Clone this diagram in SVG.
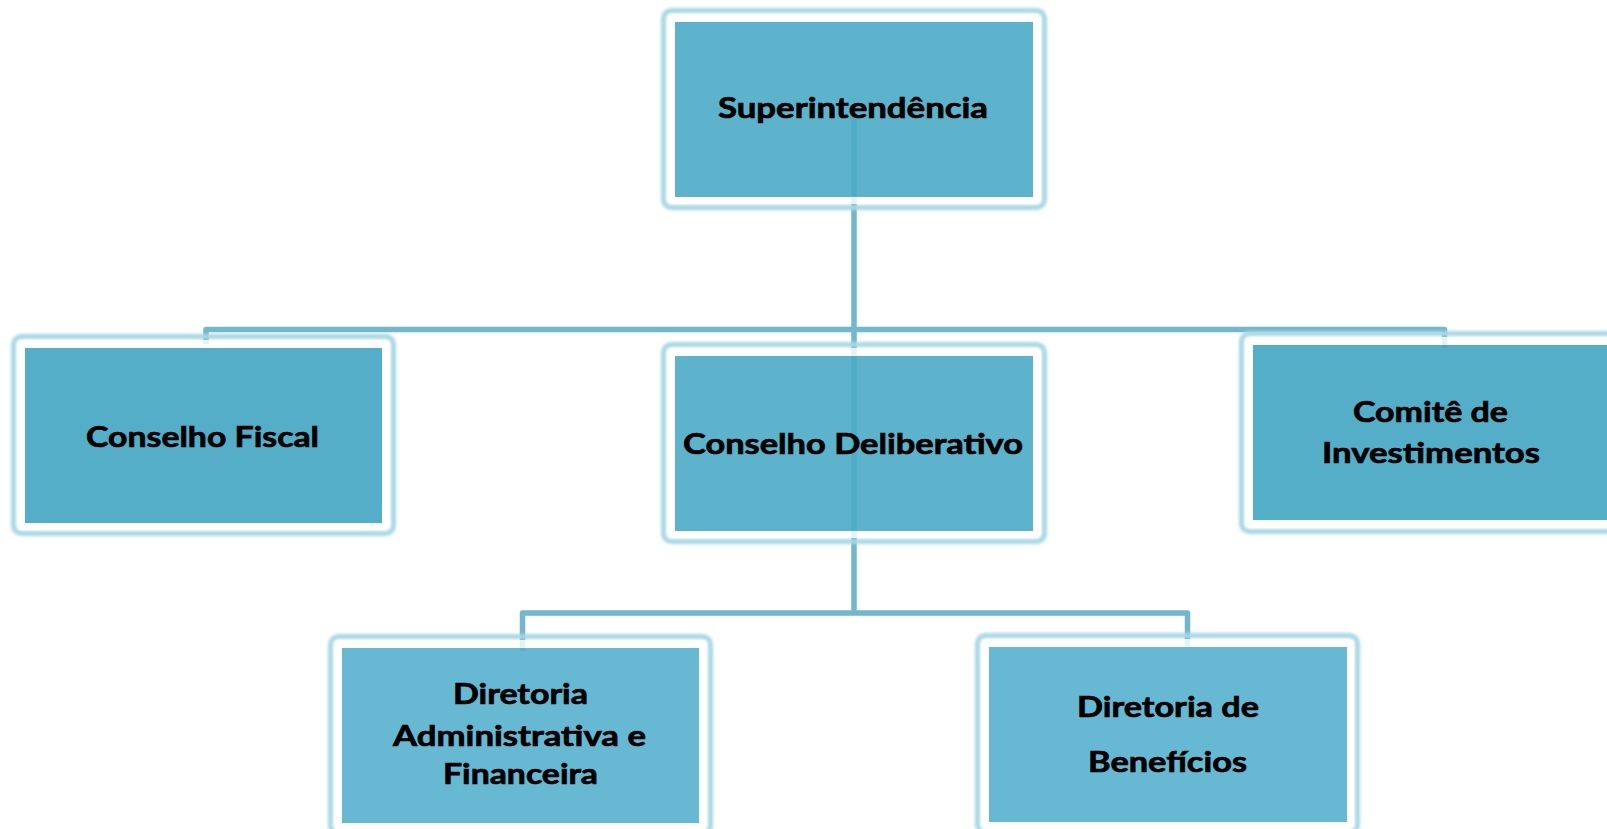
<svg xmlns="http://www.w3.org/2000/svg" width="1607" height="829" viewBox="0 0 1607 829">
<defs>
<filter id="blur" x="-10%" y="-10%" width="120%" height="120%"><feGaussianBlur stdDeviation="1.5"/></filter>
</defs>
<style>
.glow{fill:none;stroke:#a6d7e5;stroke-width:5;filter:url(#blur)}
.ring{fill:none;stroke:#ffffff;stroke-width:8;stroke-opacity:0.82}
.fill{fill-opacity:0.9}
.c1{fill:#4babc5}
.c2{fill:#41a5c2}
.c3{fill:#56b0cd}
.lbl{font-family:"Lato","Noto Sans","Liberation Sans",sans-serif;font-weight:bold;font-size:29px;fill:#000;stroke:#000;stroke-width:0.7;text-anchor:middle}
.conn{fill:none;stroke:#72b7cc;stroke-width:5.5;stroke-linejoin:round}
</style>
<rect width="1607" height="829" fill="#ffffff"/>
<g id="connectors">
<path class="conn" d="M854 110 V613"/>
<path class="conn" d="M206 344 V329.5 H1444.5 V348"/>
<path class="conn" d="M522.5 651 V613 H1187.5 V647"/>
</g>
<g id="superintendencia">
<rect class="glow" x="663.5" y="10.5" width="381" height="197" rx="8"/>
<rect class="ring" x="671" y="18" width="366" height="182" rx="2"/>
<rect class="fill c1" x="675" y="22" width="358" height="175"/>
<text class="lbl" x="853" y="118" textLength="270" lengthAdjust="spacingAndGlyphs">Superintendência</text>
</g>
<g id="conselho-fiscal">
<rect class="glow" x="13.5" y="336.5" width="380" height="197" rx="8"/>
<rect class="ring" x="21" y="344" width="365" height="182" rx="2"/>
<rect class="fill c2" x="25" y="348" width="357" height="175"/>
<text class="lbl" x="202.5" y="447" textLength="233" lengthAdjust="spacingAndGlyphs">Conselho Fiscal</text>
</g>
<g id="conselho-deliberativo">
<rect class="glow" x="663.5" y="344.5" width="381" height="197" rx="8"/>
<rect class="ring" x="671" y="352" width="366" height="182" rx="2"/>
<rect class="fill c1" x="675" y="356" width="358" height="175"/>
<text class="lbl" x="853" y="454" textLength="340" lengthAdjust="spacingAndGlyphs">Conselho Deliberativo</text>
</g>
<g id="comite-investimentos">
<rect class="glow" x="1241.5" y="333.5" width="381" height="198" rx="8"/>
<rect class="ring" x="1249" y="341" width="366" height="183" rx="2"/>
<rect class="fill c2" x="1253" y="345" width="358" height="175"/>
<text class="lbl" x="1430.5" y="422" textLength="155" lengthAdjust="spacingAndGlyphs">Comitê de</text>
<text class="lbl" x="1431" y="463" textLength="218" lengthAdjust="spacingAndGlyphs">Investimentos</text>
</g>
<g id="diretoria-administrativa">
<rect class="glow" x="330.5" y="636.5" width="380" height="197" rx="8"/>
<rect class="ring" x="338" y="644" width="365" height="182" rx="2"/>
<rect class="fill c3" x="342" y="648" width="357" height="175"/>
<text class="lbl" x="520.5" y="704" textLength="135" lengthAdjust="spacingAndGlyphs">Diretoria</text>
<text class="lbl" x="519.5" y="746" textLength="253" lengthAdjust="spacingAndGlyphs">Administrativa e</text>
<text class="lbl" x="520.5" y="784" textLength="155" lengthAdjust="spacingAndGlyphs">Financeira</text>
</g>
<g id="diretoria-beneficios">
<rect class="glow" x="977.5" y="635.5" width="380" height="197" rx="8"/>
<rect class="ring" x="985" y="643" width="365" height="182" rx="2"/>
<rect class="fill c3" x="989" y="647" width="358" height="175"/>
<text class="lbl" x="1168" y="717" textLength="182" lengthAdjust="spacingAndGlyphs">Diretoria de</text>
<text class="lbl" x="1167.5" y="772" textLength="159" lengthAdjust="spacingAndGlyphs">Benefícios</text>
</g>
</svg>
